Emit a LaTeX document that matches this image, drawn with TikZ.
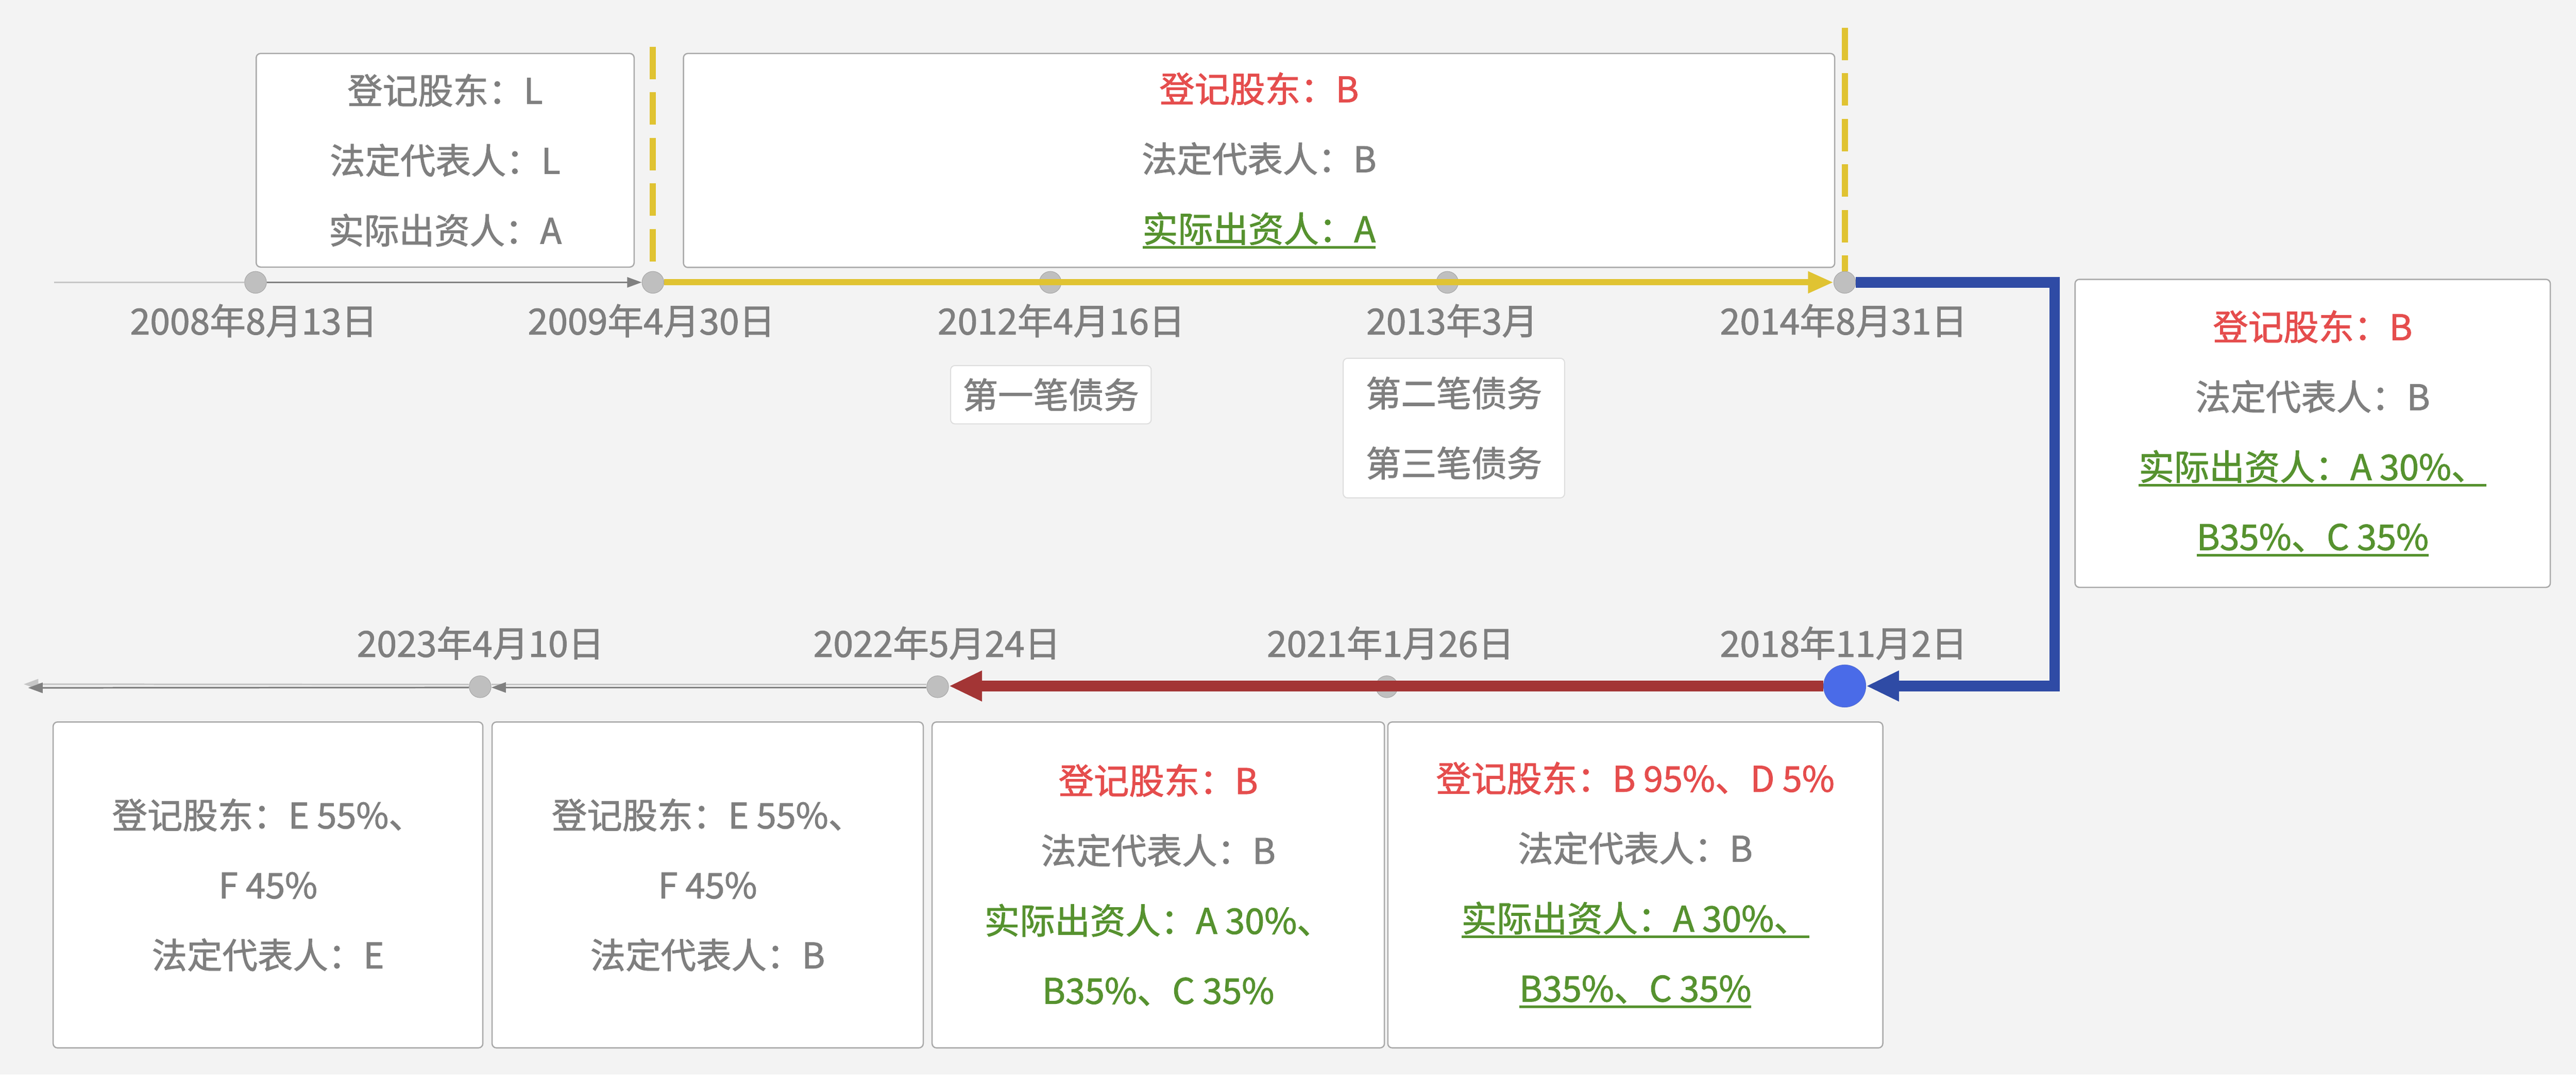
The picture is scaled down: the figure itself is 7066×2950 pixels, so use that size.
\documentclass[tikz,border=0pt]{standalone}
\usepackage{fontspec}
\setmainfont{Noto Sans CJK SC}[FakeBold=1.5]
\usetikzlibrary{arrows.meta}
\definecolor{bgc}{HTML}{F3F3F3}
\definecolor{gtext}{HTML}{7F7F7F}
\definecolor{rtext}{HTML}{E54D4D}
\definecolor{ntext}{HTML}{56922F}
\definecolor{boxb}{HTML}{A9A9A9}
\definecolor{sboxb}{HTML}{DDDDDD}
\definecolor{dotf}{HTML}{BFBFBF}
\definecolor{dotb}{HTML}{A6A6A6}
\definecolor{yel}{HTML}{E0C332}
\definecolor{blu}{HTML}{2F4BA5}
\definecolor{bdotc}{HTML}{4A6BE8}
\definecolor{redl}{HTML}{A33535}
\definecolor{dgray}{HTML}{808080}
\definecolor{lgray}{HTML}{C6C6C6}
\newcommand{\myul}[1]{\setbox0\hbox{#1}\rlap{\rule[-5pt]{\wd0}{2pt}}\box0}
\newcommand{\rd}[1]{\textcolor{rtext}{#1}}
\newcommand{\gn}[1]{\textcolor{ntext}{#1}}
\begin{document}
\begin{tikzpicture}[x=0.01cm,y=-0.01cm,
  box/.style={draw=boxb, fill=white, rounded corners=0.12cm, line width=1pt,
    inner sep=0pt, align=center, text=gtext, anchor=north west,
    font=\fontsize{27.5}{54.6}\selectfont},
  sbox/.style={box, draw=sboxb, line width=0.8pt},
  date/.style={text=gtext, anchor=base, inner sep=0pt, font=\fontsize{28}{34}\selectfont},
  dot/.style={circle, fill=dotf, draw=dotb, line width=0.4pt, minimum size=0.6cm, inner sep=0pt},
  gline/.style={line width=1.3pt},
  garrow/.style={-{Triangle[length=0.4cm,width=0.28cm]}},
  ydash/.style={yel, line width=4.8pt, dash pattern=on 0.89cm off 0.36cm}
]
\fill[bgc] (0,0) rectangle (7066,2950);
\useasboundingbox (0,0) rectangle (7066,2950);

% boxes
\node[box, minimum width=10.36cm, minimum height=5.86cm] (bL) at (701,145)
  {登记股东：L\\法定代表人：L\\实际出资人：A};
\node[box, minimum width=31.56cm, minimum height=5.87cm] (bB) at (1873,145)
  {\rd{登记股东：B}\\法定代表人：B\\\gn{\myul{实际出资人：A}}};
\node[box, minimum width=13.03cm, minimum height=8.45cm] (bR) at (5690,765)
  {\rd{登记股东：B}\\法定代表人：B\\\gn{\myul{实际出资人：A 30\%、}}\\\gn{\myul{B35\%、C 35\%}}};
\node[sbox, minimum width=5.50cm, minimum height=1.60cm] (s1) at (2606,1002) {第一笔债务};
\node[sbox, minimum width=6.07cm, minimum height=3.83cm] (s2) at (3683,982) {第二笔债务\\第三笔债务};
\node[box, minimum width=11.78cm, minimum height=8.94cm] (b1) at (144,1980)
  {登记股东：E 55\%、\\F 45\%\\法定代表人：E};
\node[box, minimum width=11.82cm, minimum height=8.94cm] (b2) at (1348,1980)
  {登记股东：E 55\%、\\F 45\%\\法定代表人：B};
\node[box, minimum width=12.40cm, minimum height=8.94cm] (b3) at (2555,1980)
  {\rd{登记股东：B}\\法定代表人：B\\\gn{实际出资人：A 30\%、}\\\gn{B35\%、C 35\%}};
\node[box, minimum width=13.57cm, minimum height=8.94cm] (b4) at (3805,1980)
  {\rd{登记股东：B 95\%、D 5\%}\\法定代表人：B\\\gn{\myul{实际出资人：A 30\%、}}\\\gn{\myul{B35\%、C 35\%}}};

% dates
\node[date] (t2008) at (696,918) {2008年8月13日};
\node[date] (t2009) at (1787,918) {2009年4月30日};
\node[date] (t2012) at (2911,918) {2012年4月16日};
\node[date] (t2013) at (3983,918) {2013年3月};
\node[date] (t2014) at (5057,918) {2014年8月31日};
\node[date] (t2018) at (5057,1803) {2018年11月2日};
\node[date] (t2021) at (3814,1803) {2021年1月26日};
\node[date] (t2022) at (2570,1803) {2022年5月24日};
\node[date] (t2023) at (1318,1803) {2023年4月10日};

% dots
\node[dot] (d2008) at (701,775) {};
\node[dot] (d2009) at (1791,775) {};
\node[dot] (d2012) at (2881,775) {};
\node[dot] (d2013) at (3970,775) {};
\node[dot] (d2014) at (5060,775) {};
\node[circle, fill=bdotc, draw=bdotc!80!gray, line width=0.4pt, minimum size=1.16cm, inner sep=0pt] (bdot) at (5060,1883) {};
\node[dot] (d2021) at (3804,1885) {};
\node[dot] (d2022) at (2572,1885) {};
\node[dot] (d2023) at (1317,1885) {};
\coordinate (start) at (148,775);
\coordinate (lend1) at (65,1878);
\coordinate (lend2) at (77,1888);
\coordinate (ya) at (1791,128);
\coordinate (yb) at (1791,721);
\coordinate (yc) at (5060,76);

% top timeline
\draw[lgray, gline] (start) -- (d2008.west);
\draw[dgray, gline, garrow] (d2008.east) -- (d2009.west);
\draw[yel, line width=4.8pt, -{Triangle[length=0.7cm,width=0.56cm]}] (d2009.east) -- (d2014.west);
\draw[ydash] (ya) -- (yb);
\draw[ydash] (yc) -- (d2014.north);

% blue connector
\draw[blu, line width=8.2pt, -{Triangle[length=0.9cm,width=0.78cm]}]
  (d2014.east) -- (5636,775) -- (5636,1883) -- (bdot.east);

% red
\draw[redl, line width=8.2pt, -{Triangle[length=0.91cm,width=0.78cm]}] (bdot.west) -- (d2022.east |- bdot.west);

% bottom gray
\draw[lgray, gline] ([yshift=0.06cm]d2022.west) -- ([yshift=0.06cm]d2023.east);
\draw[lgray, gline, garrow] ([yshift=0.06cm]d2023.west) -- (lend1);
\draw[dgray, gline, garrow] ([yshift=-0.02cm]d2022.west) -- ([yshift=-0.02cm]d2023.east);
\draw[dgray, gline, garrow] ([yshift=-0.02cm]d2023.west) -- (lend2);
\end{tikzpicture}
\end{document}
